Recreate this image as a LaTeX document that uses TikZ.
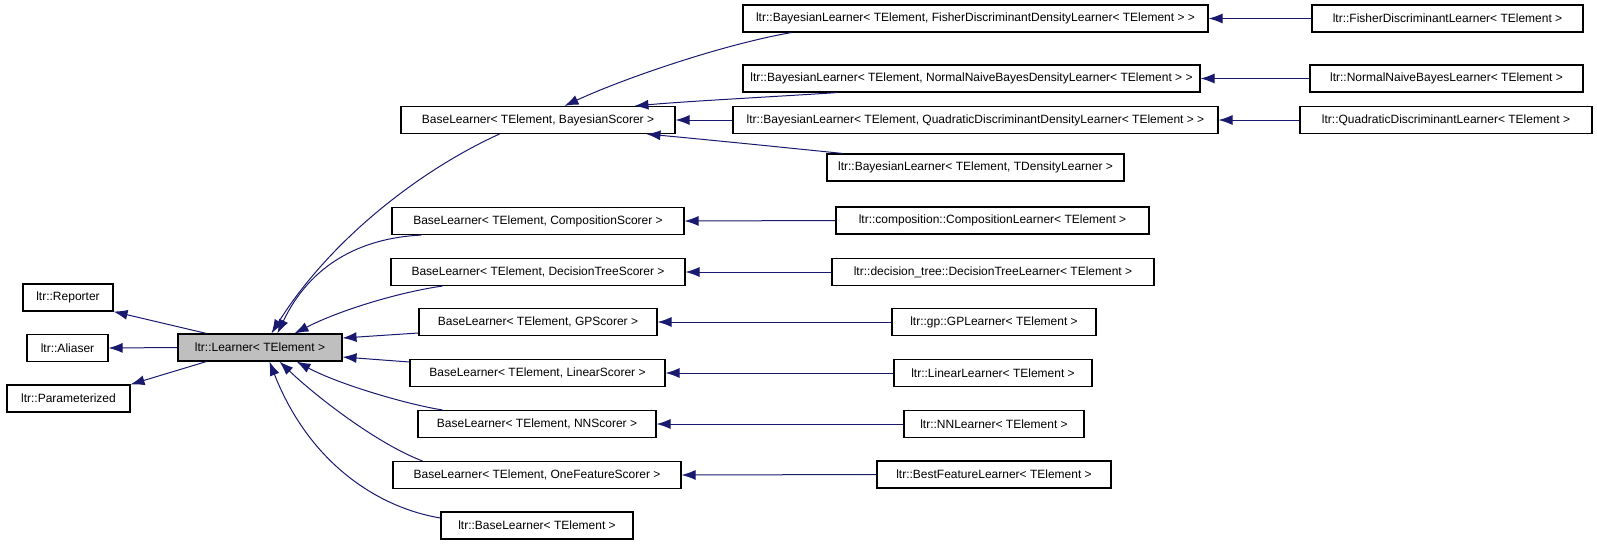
\documentclass[tikz,border=0pt]{standalone}
\usepackage{fontspec}
\setmainfont{Liberation Sans}
\usepackage{xcolor}
\usepackage{tikz}
\usetikzlibrary{arrows.meta}
\definecolor{edgeblue}{RGB}{25,25,112}
\tikzset{
  block/.style  = {rectangle, draw=black, line width=1.1pt, fill=white, inner sep=0pt,
                   minimum height=27pt, font=\fontsize{12}{15}\selectfont},
  blockG/.style = {block, fill=gray!50},
  arrow/.style  = {draw=edgeblue, line width=1pt, ->,
                   >={Latex[length=14pt, width=10pt]}},
}
\begin{document}
\begin{tikzpicture}[x=1pt, y=-1pt]
    \useasboundingbox (0,0) rectangle (1597,544);

    %% Base classes of the learner
    \node[block, minimum width=90pt]  (reporter) at ( 68,   297.5) {ltr::Reporter};
    \node[block, minimum width=81pt]  (aliaser)  at ( 67.5, 348)   {ltr::Aliaser};
    \node[block, minimum width=123pt] (param)    at ( 68.5, 398.5) {ltr::Parameterized};
    \node[blockG, minimum width=164pt] (learner) at (260,   347.5) {ltr::Learner< TElement >};

    \draw[arrow] ([xshift=29pt]learner.north west) -- (reporter.south east);
    \draw[arrow] (learner.west) -- (aliaser.east);
    \draw[arrow] ([xshift=29pt]learner.south west) -- (param.north east);

    %% Middle column (BaseLearner specialisations)
    \node[block, minimum width=274pt] (bsBayes) at (538,   120)   {BaseLearner< TElement, BayesianScorer >};
    \node[block, minimum width=292pt] (bsComp)  at (538,   221)   {BaseLearner< TElement, CompositionScorer >};
    \node[block, minimum width=294pt] (bsTree)  at (538,   272)   {BaseLearner< TElement, DecisionTreeScorer >};
    \node[block, minimum width=238pt] (bsGP)    at (538,   322)   {BaseLearner< TElement, GPScorer >};
    \node[block, minimum width=255pt] (bsLin)   at (537.5, 373)   {BaseLearner< TElement, LinearScorer >};
    \node[block, minimum width=238pt] (bsNN)    at (537,   424)   {BaseLearner< TElement, NNScorer >};
    \node[block, minimum width=288pt] (bsOne)   at (537,   475)   {BaseLearner< TElement, OneFeatureScorer >};
    \node[block, minimum width=192pt] (baseLrn) at (537,   525.5) {ltr::BaseLearner< TElement >};

    \draw[arrow] ([xshift=99pt]bsBayes.south west) .. controls (420,170) and (330,240) .. ([xshift=94pt]learner.north west);
    \draw[arrow] ([xshift=30pt]bsComp.south west) .. controls (360,238) and (310,265) .. ([xshift=100pt]learner.north west);
    \draw[arrow] ([xshift=52pt]bsTree.south west) .. controls (400,292) and (340,310) .. ([xshift=117pt]learner.north west);
    \draw[arrow] ([yshift=-11pt]bsGP.west) -- ([yshift=9.5pt]learner.east);
    \draw[arrow] ([yshift=11pt]bsLin.west) -- ([yshift=-9.5pt]learner.east);
    \draw[arrow] ([xshift=25pt]bsNN.north west) .. controls (410,405) and (340,385) .. ([xshift=119pt]learner.south west);
    \draw[arrow] ([xshift=30pt]bsOne.north west) .. controls (380,445) and (320,400) .. ([xshift=102pt]learner.south west);
    \draw[arrow] ([yshift=7.5pt]baseLrn.west) .. controls (380,508) and (310,465) .. ([xshift=92pt]learner.south west);

    %% Bayesian learners
    \node[block, minimum width=465pt] (bayFisher) at (975.5, 18.5)  {ltr::BayesianLearner< TElement, FisherDiscriminantDensityLearner< TElement > >};
    \node[block, minimum width=457pt] (bayNormal) at (971.5, 78.5)  {ltr::BayesianLearner< TElement, NormalNaiveBayesDensityLearner< TElement > >};
    \node[block, minimum width=485pt] (bayQuad)   at (975.5, 120)   {ltr::BayesianLearner< TElement, QuadraticDiscriminantDensityLearner< TElement > >};
    \node[block, minimum width=297pt] (bayDens)   at (975.5, 167.5) {ltr::BayesianLearner< TElement, TDensityLearner >};

    \draw[arrow] ([xshift=49pt]bayFisher.south west) .. controls (720,45) and (620,80) .. ([xshift=164pt]bsBayes.north west);
    \draw[arrow] ([xshift=95pt]bayNormal.south west) .. controls (770,97) and (690,101) .. ([xshift=234pt]bsBayes.north west);
    \draw[arrow] (bayQuad.west) -- (bsBayes.east);
    \draw[arrow] ([xshift=16pt]bayDens.north west) .. controls (780,147) and (700,139) .. ([xshift=246pt]bsBayes.south west);

    %% Leaf learners
    \node[block, minimum width=271pt] (fisherLrn) at (1447.5, 18.5) {ltr::FisherDiscriminantLearner< TElement >};
    \node[block, minimum width=273pt] (normalLrn) at (1446.5, 78.5) {ltr::NormalNaiveBayesLearner< TElement >};
    \node[block, minimum width=292pt] (quadLrn)   at (1446,   120)  {ltr::QuadraticDiscriminantLearner< TElement >};
    \node[block, minimum width=313pt] (compLrn)   at (992.5,  220.5) {ltr::composition::CompositionLearner< TElement >};
    \node[block, minimum width=322pt] (treeLrn)   at (993,    272)  {ltr::decision\_tree::DecisionTreeLearner< TElement >};
    \node[block, minimum width=204pt] (gpLrn)     at (994,    322)  {ltr::gp::GPLearner< TElement >};
    \node[block, minimum width=198pt] (linLrn)    at (993,    373)  {ltr::LinearLearner< TElement >};
    \node[block, minimum width=180pt] (nnLrn)     at (994,    424)  {ltr::NNLearner< TElement >};
    \node[block, minimum width=234pt] (bestLrn)   at (994,    474.5) {ltr::BestFeatureLearner< TElement >};

    \draw[arrow] (fisherLrn.west) -- (bayFisher.east);
    \draw[arrow] (normalLrn.west) -- (bayNormal.east);
    \draw[arrow] (quadLrn.west)   -- (bayQuad.east);
    \draw[arrow] (compLrn.west)   -- (bsComp.east);
    \draw[arrow] (treeLrn.west)   -- (bsTree.east);
    \draw[arrow] (gpLrn.west)     -- (bsGP.east);
    \draw[arrow] (linLrn.west)    -- (bsLin.east);
    \draw[arrow] (nnLrn.west)     -- (bsNN.east);
    \draw[arrow] (bestLrn.west)   -- (bsOne.east);

  \end{tikzpicture}
\end{document}
